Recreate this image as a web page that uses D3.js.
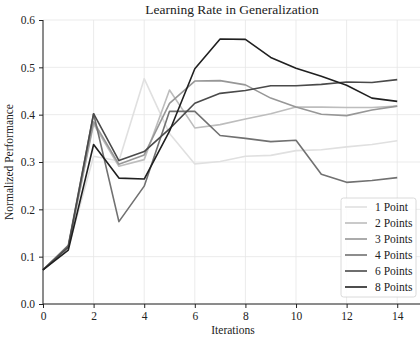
<!DOCTYPE html>
<html><head><meta charset="utf-8">
<script src="https://cdn.jsdelivr.net/npm/d3@7"></script>
<style>
body{margin:0;background:#fff;}
svg{display:block;font-family:"Liberation Serif","DejaVu Serif",serif;}
</style></head>
<body><svg id="c" width="420" height="339"></svg>
<script>
const iterations = [0,1,2,3,4,5,6,7,8,9,10,11,12,13,14];
const seriesNames = ["1 Point","2 Points","3 Points","4 Points","6 Points","8 Points"];
const onePoint   = [0.072,0.118,0.312,0.302,0.476,0.360,0.296,0.301,0.312,0.314,0.324,0.326,0.332,0.337,0.345];
const twoPoints  = [0.072,0.120,0.380,0.291,0.305,0.452,0.372,0.379,0.391,0.402,0.416,0.416,0.415,0.415,0.418];
const threePoints= [0.072,0.122,0.385,0.295,0.315,0.424,0.471,0.472,0.463,0.435,0.416,0.401,0.398,0.410,0.418];
const fourPoints = [0.072,0.124,0.402,0.174,0.249,0.407,0.407,0.356,0.350,0.343,0.346,0.274,0.257,0.261,0.267];
const sixPoints  = [0.072,0.120,0.402,0.303,0.322,0.370,0.424,0.445,0.451,0.461,0.461,0.464,0.469,0.468,0.474];
const eightPoints= [0.072,0.114,0.337,0.266,0.264,0.365,0.497,0.560,0.559,0.521,0.498,0.481,0.462,0.435,0.428];
const seriesValues = [onePoint,twoPoints,threePoints,fourPoints,sixPoints,eightPoints];
const colors = ["#e0e0e0","#bdbdbd","#979797","#717171","#4a4a4a","#202020"];
const xTicks = [0,2,4,6,8,10,12,14];
const yTicks = [0,0.1,0.2,0.3,0.4,0.5,0.6];

const svg = d3.select("#c");
const x = d3.scaleLinear().domain([0,14.9]).range([43,420]);
const y = d3.scaleLinear().domain([0,0.6]).range([304,20]);

// grid
svg.append("g").selectAll("line").data(xTicks).join("line")
  .attr("x1",d=>x(d)).attr("x2",d=>x(d)).attr("y1",y(0)).attr("y2",y(0.6))
  .attr("stroke","#e6e6e6").attr("stroke-width",0.8);
svg.append("g").selectAll("line").data(yTicks).join("line")
  .attr("x1",x(0)).attr("x2",420).attr("y1",d=>y(d)).attr("y2",d=>y(d))
  .attr("stroke","#e6e6e6").attr("stroke-width",0.8);

// lines
const line = d3.line().x((d,i)=>x(iterations[i])).y(d=>y(d));
seriesValues.forEach((vals,k)=>{
  svg.append("path").datum(vals).attr("d",line).attr("fill","none")
    .attr("stroke",colors[k]).attr("stroke-width",1.6).attr("stroke-linejoin","round");
});

// axes
const xAxis = svg.append("g").attr("transform",`translate(0,${y(0)})`)
  .call(d3.axisBottom(x).tickValues(xTicks).tickFormat(d3.format("d")).tickSizeOuter(0).tickSize(4).tickPadding(4));
const yAxis = svg.append("g").attr("transform",`translate(${x(0)},0)`)
  .call(d3.axisLeft(y).tickValues(yTicks).tickFormat(d3.format(".1f")).tickSizeOuter(0).tickSize(4).tickPadding(4));
[xAxis,yAxis].forEach(g=>{
  g.select(".domain").attr("stroke","#222").attr("stroke-width",1);
  g.selectAll(".tick line").attr("stroke","#222");
  g.selectAll("text").attr("font-size",11.5).attr("fill","#222").attr("font-family","Liberation Serif, serif");
});
xAxis.select(".domain").attr("d",`M${x(0)},0H420`);
yAxis.select(".domain").attr("d",`M0,${y(0)}V${y(0.6)}`);

// titles
svg.append("text").attr("x",232).attr("y",14).attr("text-anchor","middle")
  .attr("font-size",13.5).attr("fill","#222").text("Learning Rate in Generalization");
svg.append("text").attr("x",233).attr("y",334).attr("text-anchor","middle")
  .attr("font-size",11.5).attr("fill","#222").text("Iterations");
svg.append("text").attr("transform",`translate(13,${y(0.3)}) rotate(-90)`).attr("text-anchor","middle")
  .attr("font-size",11.5).attr("fill","#222").text("Normalized Performance");

// legend
const lg = svg.append("g");
lg.append("rect").attr("x",341).attr("y",198).attr("width",75).attr("height",99).attr("rx",2.5)
  .attr("fill","#fff").attr("fill-opacity",0.85).attr("stroke","#d0d0d0").attr("stroke-width",0.8);
seriesNames.forEach((n,k)=>{
  const yy = 207 + k*16;
  lg.append("line").attr("x1",345).attr("x2",367).attr("y1",yy).attr("y2",yy)
    .attr("stroke",colors[k]).attr("stroke-width",1.6);
  lg.append("text").attr("x",375).attr("y",yy+4).attr("font-size",11.5).attr("fill","#222").text(n);
});
</script></body></html>
